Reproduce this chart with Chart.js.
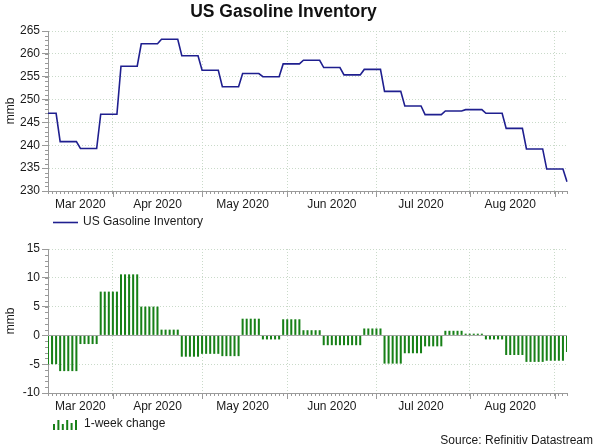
<!DOCTYPE html>
<html><head><meta charset="utf-8">
<script src="https://cdn.jsdelivr.net/npm/chart.js@4"></script>
<style>
html,body{margin:0;padding:0;background:#fff;}
#wrap{position:relative;width:600px;height:446px;overflow:hidden;}
.box{position:absolute;left:0;width:600px;}
</style></head><body>
<div id="wrap">
<div class="box" style="top:0;height:230px"><canvas id="c1"></canvas></div>
<div class="box" style="top:230px;height:216px"><canvas id="c2"></canvas></div>
</div>
<script>
// ---------------- DATA ----------------
const firstDay = '2020-03-10';
const lastDay = '2020-09-04';
const monthLabels = ['Mar 2020','Apr 2020','May 2020','Jun 2020','Jul 2020','Aug 2020'];
const inventoryTicks = [230,235,240,245,250,255,260,265];
const changeTicks = [-10,-5,0,5,10,15];

// US gasoline inventory, mmb (daily business-day series, weekly values held)
const inventory = [
  247.0,247.0,247.0,
  240.8,240.8,240.8,240.8,240.8,
  239.3,239.3,239.3,239.3,239.3,
  246.8,246.8,246.8,246.8,246.8,
  257.3,257.3,257.3,257.3,257.3,
  262.2,262.2,262.2,262.2,262.2,
  263.2,263.2,263.2,263.2,263.2,
  259.6,259.6,259.6,259.6,259.6,
  256.4,256.4,256.4,256.4,256.4,
  252.8,252.8,252.8,252.8,252.8,
  255.7,255.7,255.7,255.7,255.7,
  255.0,255.0,255.0,255.0,255.0,
  257.8,257.8,257.8,257.8,257.8,
  258.6,258.6,258.6,258.6,258.6,
  257.0,257.0,257.0,257.0,257.0,
  255.4,255.4,255.4,255.4,255.4,
  256.6,256.6,256.6,256.6,256.6,
  251.8,251.8,251.8,251.8,251.8,
  248.6,248.6,248.6,248.6,248.6,
  246.7,246.7,246.7,246.7,246.7,
  247.5,247.5,247.5,247.5,247.5,
  247.8,247.8,247.8,247.8,247.8,
  247.0,247.0,247.0,247.0,247.0,
  243.7,243.7,243.7,243.7,243.7,
  239.2,239.2,239.2,239.2,239.2,
  234.8,234.8,234.8,234.8,234.8,
  232.0
];

// 1-week change, mmb
const weeklyChange = [
  -5.0,-5.0,-5.0,
  -6.2,-6.2,-6.2,-6.2,-6.2,
  -1.5,-1.5,-1.5,-1.5,-1.5,
  7.6,7.6,7.6,7.6,7.6,
  10.6,10.6,10.6,10.6,10.6,
  5.0,5.0,5.0,5.0,5.0,
  1.0,1.0,1.0,1.0,1.0,
  -3.7,-3.7,-3.7,-3.7,-3.7,
  -3.2,-3.2,-3.2,-3.2,-3.2,
  -3.6,-3.6,-3.6,-3.6,-3.6,
  2.9,2.9,2.9,2.9,2.9,
  -0.7,-0.7,-0.7,-0.7,-0.7,
  2.8,2.8,2.8,2.8,2.8,
  0.9,0.9,0.9,0.9,0.9,
  -1.7,-1.7,-1.7,-1.7,-1.7,
  -1.7,-1.7,-1.7,-1.7,-1.7,
  1.2,1.2,1.2,1.2,1.2,
  -4.9,-4.9,-4.9,-4.9,-4.9,
  -3.1,-3.1,-3.1,-3.1,-3.1,
  -1.9,-1.9,-1.9,-1.9,-1.9,
  0.8,0.8,0.8,0.8,0.8,
  0.3,0.3,0.3,0.3,0.3,
  -0.7,-0.7,-0.7,-0.7,-0.7,
  -3.4,-3.4,-3.4,-3.4,-3.4,
  -4.6,-4.6,-4.6,-4.6,-4.6,
  -4.4,-4.4,-4.4,-4.4,-4.4,
  -2.9
];

// ---------------- CATEGORIES (business days) ----------------
const days = [];
{
  const d = new Date(firstDay + 'T00:00:00Z');
  const end = new Date(lastDay + 'T00:00:00Z');
  while (d <= end) {
    const wd = d.getUTCDay();
    if (wd !== 0 && wd !== 6) days.push(d.toISOString().slice(0,10));
    d.setUTCDate(d.getUTCDate() + 1);
  }
}
// month starts and label positions
const monthStarts = [];
const monthFirst = {};
days.forEach((s, i) => { const m = s.slice(0,7); if (!(m in monthFirst)) { monthFirst[m] = i; if (i > 0) monthStarts.push(i); } });
const monthKeys = Object.keys(monthFirst);
const labelAt = {};
monthLabels.forEach((lab, k) => {
  const a = monthFirst[monthKeys[k]];
  const b = k + 1 < monthKeys.length ? monthFirst[monthKeys[k+1]] : days.length;
  labelAt[Math.floor((a + b) / 2)] = lab;
});

// ---------------- STYLE ----------------
const FONT = "'Liberation Sans', Arial, sans-serif";
Chart.defaults.font.family = FONT;
Chart.defaults.font.size = 12;
Chart.defaults.color = '#1a1a1a';
const GRID = '#c9dac9';
const AXIS = '#9a9a9a';
const NAVY = '#1f1f8f';
const GREEN = '#178017';

const decor = {
  id: 'decor',
  beforeDatasetsDraw(chart, args, opts) {
    if (!opts.zeroLine) return;
    const ctx = chart.ctx, y = chart.scales.y, a = chart.chartArea;
    const py = Math.round(y.getPixelForValue(0)) + 0.5;
    ctx.save(); ctx.strokeStyle = '#a8a8a8'; ctx.lineWidth = 1;
    ctx.beginPath(); ctx.moveTo(a.left, py); ctx.lineTo(a.right, py); ctx.stroke(); ctx.restore();
  },
  afterDraw(chart, args, opts) {
    const ctx = chart.ctx, x = chart.scales.x, y = chart.scales.y;
    ctx.save();
    ctx.strokeStyle = AXIS; ctx.lineWidth = 1;
    ctx.beginPath();
    for (let v = y.min; v <= y.max; v += 1) {
      const py = Math.round(y.getPixelForValue(v)) + 0.5;
      ctx.moveTo(y.right - 3, py); ctx.lineTo(y.right, py);
    }
    monthStarts.forEach(i => {
      const px = Math.round(x.getPixelForValue(i)) + 0.5;
      ctx.moveTo(px, x.top); ctx.lineTo(px, x.top + 6);
    });
    ctx.stroke();
    // legend
    ctx.font = '12px ' + FONT;
    ctx.textBaseline = 'middle';
    ctx.fillStyle = '#1a1a1a';
    const ly = opts.legendY;
    if (opts.legend === 'line') {
      ctx.strokeStyle = NAVY; ctx.lineWidth = 1.6;
      ctx.beginPath(); ctx.moveTo(53, ly + 0.5); ctx.lineTo(78, ly + 0.5); ctx.stroke();
      ctx.textAlign = 'left';
      ctx.fillText(opts.legendText, 83, ly);
    } else {
      ctx.fillStyle = GREEN;
      const hs = [6, 10, 6, 10, 7, 10];
      hs.forEach((h, k) => ctx.fillRect(53 + k * 4.4, ly + 6 - h, 2, h));
      ctx.fillStyle = '#1a1a1a';
      ctx.textAlign = 'left';
      ctx.fillText(opts.legendText, 84, ly);
      ctx.textAlign = 'right';
      ctx.fillText('Source: Refinitiv Datastream', 593, opts.sourceY);
    }
    ctx.restore();
  }
};

function xScale() {
  return {
    type: 'category',
    offset: false,
    grid: {
      offset: false,
      color: c => monthStarts.includes(c.index) ? GRID : 'transparent',
      tickColor: AXIS, tickLength: 3, drawTicks: true
    },
    border: { display: true, color: AXIS, width: 1, dash: [1, 2] },
    ticks: {
      autoSkip: false, maxRotation: 0, minRotation: 0, padding: 3,
      color: '#1a1a1a', font: { size: 12 },
      callback: (v, i) => labelAt[i] || ''
    },
    afterFit: s => { s.height = 20; }
  };
}
function yScale(min, max, ticks) {
  return {
    min, max,
    afterBuildTicks: s => { s.ticks = ticks.map(v => ({ value: v })); },
    grid: { color: GRID, tickColor: AXIS, tickLength: 6 },
    border: { display: true, color: AXIS, width: 1, dash: [1, 2] },
    ticks: { padding: 2, color: '#1a1a1a', font: { size: 12 } },
    title: { display: true, text: 'mmb', color: '#1a1a1a', font: { size: 12 }, padding: { top: 3, bottom: 0 } },
    afterFit: s => { s.width = 48; }
  };
}

new Chart(document.getElementById('c1'), {
  type: 'line',
  data: { labels: days, datasets: [{ label: 'US Gasoline Inventory', data: inventory, borderColor: NAVY, borderWidth: 1.6, pointRadius: 0, tension: 0, fill: false }] },
  options: {
    responsive: true, maintainAspectRatio: false, animation: false, devicePixelRatio: 1,
    layout: { padding: { left: 0, right: 33, top: 0, bottom: 19 } },
    events: [],
    plugins: {
      legend: { display: false }, tooltip: { enabled: false },
      title: { display: true, text: 'US Gasoline Inventory', color: '#111', font: { size: 17.5, weight: 'bold', family: FONT }, padding: { top: 2, bottom: 8 } },
      decor: { legend: 'line', legendText: 'US Gasoline Inventory', legendY: 222 }
    },
    scales: { x: xScale(), y: yScale(230, 265, inventoryTicks) }
  },
  plugins: [decor]
});

new Chart(document.getElementById('c2'), {
  type: 'bar',
  data: { labels: days, datasets: [{ label: '1-week change', data: weeklyChange, backgroundColor: GREEN, borderWidth: 0, categoryPercentage: 1, barPercentage: 0.5 }] },
  options: {
    responsive: true, maintainAspectRatio: false, animation: false, devicePixelRatio: 1,
    layout: { padding: { left: 0, right: 33, top: 19, bottom: 33 } },
    events: [],
    plugins: {
      legend: { display: false }, tooltip: { enabled: false },
      decor: { zeroLine: true, legend: 'bar', legendText: '1-week change', legendY: 194, sourceY: 211 }
    },
    scales: { x: xScale(), y: yScale(-10, 15, changeTicks) }
  },
  plugins: [decor]
});
</script>
</body></html>
